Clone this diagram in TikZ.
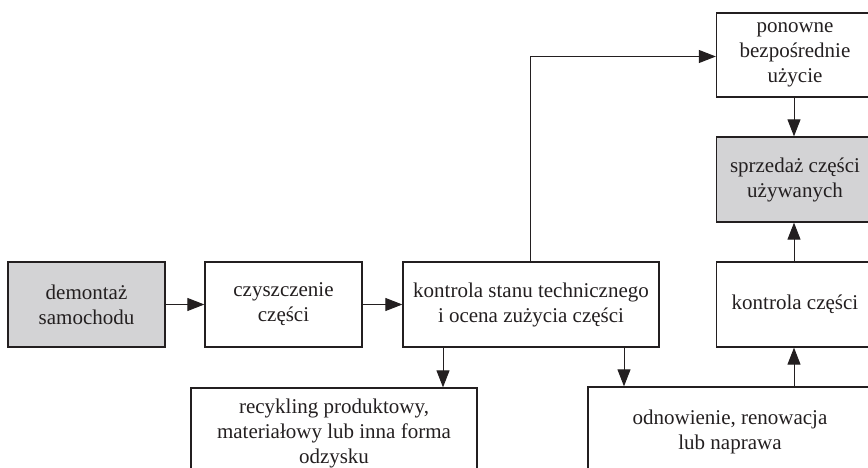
\documentclass[tikz,border=0pt]{standalone}
\usepackage{fontspec}
\setmainfont{Liberation Serif}
\usetikzlibrary{arrows.meta,calc}
\definecolor{ink}{RGB}{35,31,32}
\definecolor{shade}{RGB}{211,211,213}
\begin{document}
\begin{tikzpicture}[x=1pt,y=-1pt,
  every node/.style={font=\fontsize{21}{25}\selectfont, text=ink},
  box/.style={draw=ink, line width=1.3pt, rectangle, align=center,
              inner sep=0pt, minimum width=#1},
  box/.default=157pt,
  grey/.style={fill=shade},
  arr/.style={draw=ink, line width=1pt,
              -{Triangle[length=17pt,width=13pt]}}]
\useasboundingbox (0,0) rectangle (868,468);
\clip (0,0) rectangle (868,468);

% main row
\node[box, grey, minimum height=85pt] (dem) at (86.5,304.5) {demontaż\\samochodu};
\node[box, minimum height=85pt] (czy) at (283.5,304.5) {czyszczenie\\części};
\node[box=256pt, minimum height=85pt] (kst) at (531,304.5)
  {kontrola stanu technicznego\\i ocena zużycia części};

% right column
\node[box, minimum height=84pt] (pon) at (795,55) {ponowne\\bezpośrednie\\użycie};
\node[box, grey, minimum height=85pt] (spr) at (795,179.5) {sprzedaż części\\używanych};
\node[box, minimum height=85pt] (kcz) at (795,304.5) {kontrola części};

% bottom row
\node[box=286pt, minimum height=90pt] (rec) at (334,433)
  {recykling produktowy,\\materiałowy lub inna forma\\odzysku};
\node[box=284pt, minimum height=90pt] (odn) at (730,432)
  {odnowienie, renowacja\\lub naprawa};

% connectors
\draw[arr] (dem) -- (czy);
\draw[arr] (czy) -- (kst);
\draw[arr] ([xshift=-1pt]kst.north) |- ([yshift=-1.5pt]pon.west);
\draw[arr] ([xshift=-88pt]kst.south) -- ([xshift=-88pt]kst.south |- rec.north);
\draw[arr] ([xshift=93pt]kst.south) -- ([xshift=93pt]kst.south |- odn.north);
\draw[arr] ([xshift=-1pt]pon.south) -- ([xshift=-1pt]spr.north);
\draw[arr] ([xshift=-1pt]kcz.north) -- ([xshift=-1pt]spr.south);
\draw[arr] ([xshift=-1pt]kcz.south |- odn.north) -- ([xshift=-1pt]kcz.south);
\end{tikzpicture}
\end{document}
